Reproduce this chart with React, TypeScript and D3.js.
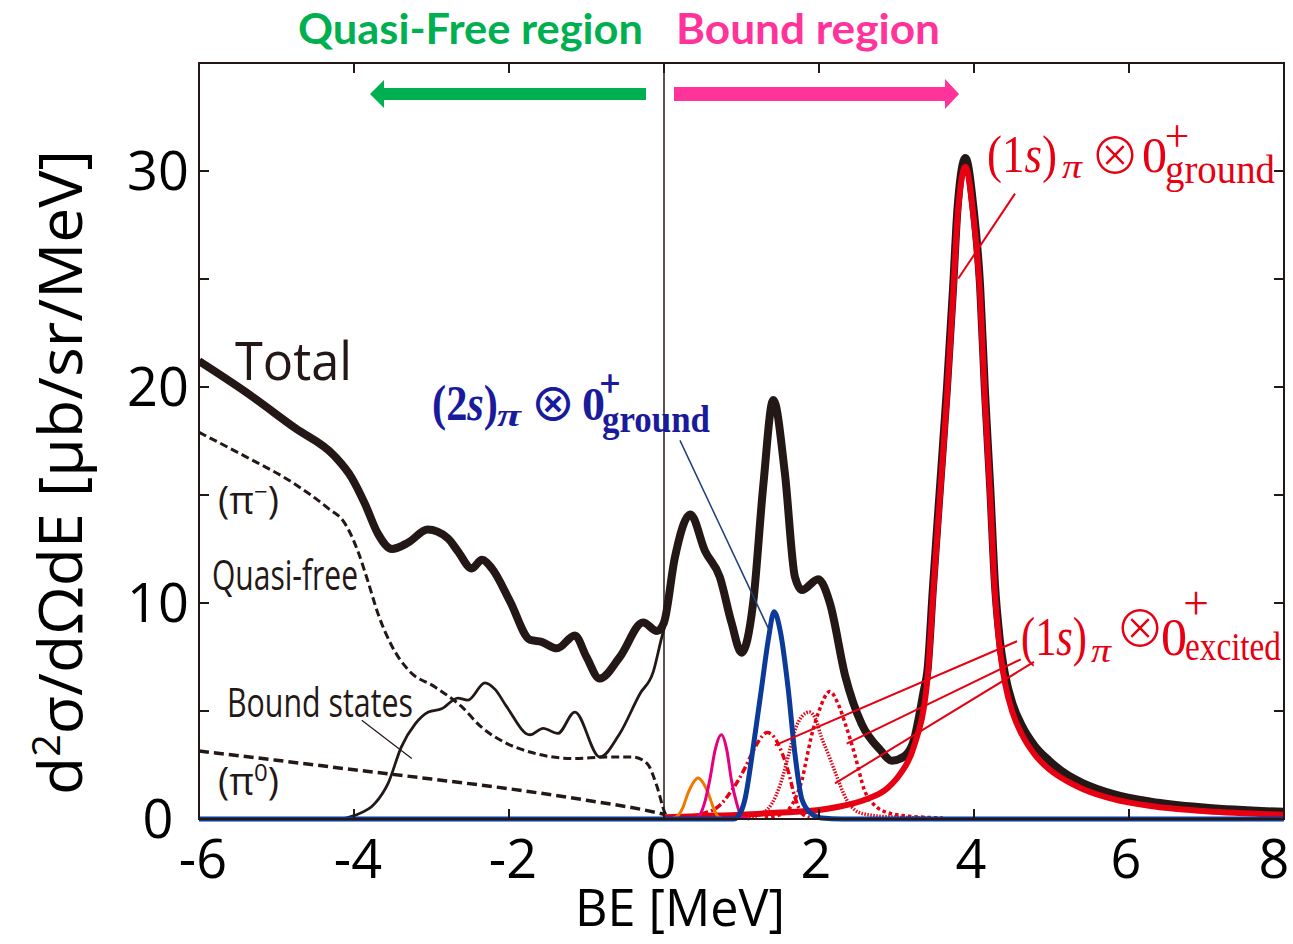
import React from 'react';
import * as d3 from 'd3';

type P = [number, number];

const xTicks = [-6, -4, -2, 0, 2, 4, 6, 8];
const yTicksAll = [0, 5, 10, 15, 20, 25, 30, 35];
const yTickLabels = [0, 10, 20, 30];

const totalCurve: P[] = [
  [-6, 21.2], [-5.41, 19.8], [-4.76, 18.1], [-4.25, 16.8], [-4.03, 15.8], [-3.86, 14.6], [-3.69, 13.2],
  [-3.51, 12.5], [-3.3, 12.8], [-3.05, 13.4], [-2.79, 13.0], [-2.66, 12.4], [-2.48, 11.6], [-2.35, 12.0],
  [-2.22, 11.6], [-1.99, 10.1], [-1.73, 8.3], [-1.58, 8.2], [-1.38, 7.9], [-1.15, 8.5], [-1.0, 7.5],
  [-0.83, 6.5], [-0.57, 7.5], [-0.27, 9.1], [-0.09, 8.7], [0.0, 9.1], [0.14, 12.1], [0.34, 14.1],
  [0.53, 12.4], [0.72, 11.2], [0.87, 9.1], [1.0, 7.7], [1.15, 10.0], [1.28, 15.4], [1.41, 19.4],
  [1.56, 16.0], [1.69, 11.2], [1.78, 10.6], [1.99, 11.1], [2.14, 10.0], [2.34, 6.6], [2.55, 4.4],
  [2.79, 3.2], [2.94, 2.7], [3.1, 2.9], [3.22, 3.6], [3.35, 5.9], [3.4, 6.9], [3.47, 10.7], [3.56, 15.3],
  [3.65, 19.9], [3.73, 24.6], [3.79, 28.4], [3.89, 30.6], [3.99, 28.4], [4.08, 24.6], [4.14, 19.9],
  [4.21, 15.3], [4.27, 10.9], [4.33, 8.4], [4.4, 6.7], [4.5, 5.3], [4.62, 4.3], [4.78, 3.4], [4.97, 2.7],
  [5.2, 2.05], [5.41, 1.65], [5.8, 1.15], [6.28, 0.8], [7.0, 0.52], [8.0, 0.33],
];

const quasiFreeCurve: P[] = [
  [-6, 17.9], [-5.41, 16.8], [-4.76, 15.5], [-4.34, 14.4], [-4.12, 13.7], [-3.95, 12.4], [-3.82, 11.0],
  [-3.69, 9.5], [-3.51, 8.0], [-3.3, 6.9], [-2.95, 6.1], [-2.61, 5.2], [-2.37, 4.3], [-2.03, 3.5],
  [-1.73, 3.1], [-1.17, 2.8], [-0.74, 2.87], [-0.4, 2.87], [-0.22, 2.58], [-0.09, 1.5], [0.01, 0.3], [0.06, 0.0],
];

const pi0Curve: P[] = [
  [-6, 3.15], [-5, 2.72], [-4, 2.28], [-3, 1.85], [-2, 1.4], [-1, 0.87], [-0.3, 0.45], [0.0, 0.22],
];

const boundStatesCurve: P[] = [
  [-6, 0], [-4.2, 0], [-3.99, 0.17], [-3.73, 0.72], [-3.56, 1.65], [-3.39, 3.33], [-3.21, 4.4],
  [-3.04, 4.95], [-2.87, 5.1], [-2.66, 5.6], [-2.53, 5.5], [-2.31, 6.3], [-2.18, 6.0], [-2.03, 5.2],
  [-1.73, 3.9], [-1.56, 4.2], [-1.37, 3.96], [-1.15, 4.95], [-0.83, 2.87], [-0.57, 3.96], [-0.31, 5.8],
  [-0.14, 6.8], [-0.03, 8.4], [0.03, 9.2],
];

const ground1sCurve: P[] = [
  [0.0, 0.08], [0.5, 0.14], [1.0, 0.2], [1.5, 0.3], [2.0, 0.42], [2.3, 0.6], [2.6, 0.9], [2.89, 1.45],
  [3.05, 2.1], [3.22, 3.3], [3.4, 6.5], [3.47, 10.3], [3.56, 14.9], [3.65, 19.5], [3.73, 24.2],
  [3.79, 28.0], [3.89, 30.2], [3.99, 28.0], [4.08, 24.2], [4.14, 19.5], [4.21, 14.9], [4.27, 10.5],
  [4.33, 8.0], [4.4, 6.3], [4.5, 4.9], [4.62, 3.9], [4.78, 3.0], [4.97, 2.3], [5.2, 1.75], [5.41, 1.38],
  [5.8, 0.92], [6.28, 0.6], [7.0, 0.36], [8.0, 0.2],
];

const ground2sCurve: P[] = [
  [-6, 0], [0.9, 0], [1.0, 0.4], [1.05, 1.0], [1.11, 2.3], [1.17, 3.8], [1.26, 6.1], [1.35, 8.4],
  [1.42, 9.6], [1.5, 8.7], [1.6, 6.1], [1.69, 3.0], [1.78, 0.9], [1.9, 0.25], [2.03, 0.05], [2.3, 0], [8, 0],
];

const orangeCurve: P[] = [
  [0.05, 0], [0.16, 0.1], [0.24, 0.5], [0.31, 1.2], [0.38, 1.7], [0.44, 1.9], [0.5, 1.7], [0.57, 1.2],
  [0.64, 0.5], [0.7, 0.1], [0.8, 0],
];

const pinkCurve: P[] = [
  [0.35, 0], [0.44, 0.1], [0.52, 0.7], [0.59, 1.8], [0.66, 3.2], [0.74, 3.9], [0.81, 3.2], [0.87, 1.8],
  [0.94, 0.7], [1.0, 0.1], [1.1, 0],
];

const excitedA: P[] = [
  [0.1, 0.05], [0.5, 0.25], [0.74, 0.7], [0.85, 1.2], [0.96, 1.8], [1.05, 2.4], [1.13, 3.0], [1.22, 3.6],
  [1.33, 4.0], [1.42, 3.8], [1.47, 3.5], [1.54, 2.9], [1.6, 2.25], [1.69, 1.0], [1.78, 0.26], [1.9, 0.05],
];

const excitedB: P[] = [
  [1.1, 0.05], [1.21, 0.17], [1.39, 0.7], [1.5, 1.6], [1.61, 3.0], [1.69, 4.1], [1.78, 4.75], [1.88, 4.95],
  [1.96, 4.6], [2.03, 3.8], [2.12, 3.0], [2.2, 2.25], [2.36, 0.87], [2.55, 0.26], [2.9, 0.1], [3.4, 0.05],
];

const excitedC: P[] = [
  [1.3, 0.05], [1.5, 0.2], [1.6, 0.4], [1.7, 1.0], [1.78, 1.8], [1.84, 2.8], [1.9, 3.8], [2.0, 5.0],
  [2.14, 5.9], [2.25, 5.3], [2.34, 4.4], [2.46, 3.0], [2.59, 1.3], [2.7, 0.7], [2.81, 0.4], [3.1, 0.15], [3.6, 0.05],
];

// annotation leader lines in data units: [from, to]
const excitedLeaders: [P, P][] = [
  [[4.555, 8.23], [1.43, 3.41]],
  [[4.603, 7.39], [2.357, 3.49]],
  [[4.774, 7.27], [2.206, 1.65]],
];
const ground1sLeader: [P, P] = [[4.529, 28.95], [3.797, 25.02]];
const ground2sLeader: [P, P] = [[0.206, 17.53], [1.368, 8.66]];
const boundLeader: [P, P] = [[-3.9, 4.57], [-3.255, 2.8]];

const W = 1293;
const H = 944;
const L = 199, R = 1284, T = 63, B = 819;

const BLACK = '#231815';
const RED = '#e60012';
const BLUE = '#0b3a98';
const NAVY = '#1a1a9c';
const PINK = '#e4007f';
const ORANGE = '#ee7800';

const SANS = "'Open Sans', 'Noto Sans', sans-serif";
const SERIF = "'Liberation Serif', 'DejaVu Serif', serif";
const SYM = "'Noto Sans CJK JP', 'DejaVu Sans', sans-serif";

export default function App() {
  const x = d3.scaleLinear().domain([-6, 8]).range([L, R]);
  const y = d3.scaleLinear().domain([0, 35]).range([B, T]);
  const line = d3.line<P>().x((d) => x(d[0])).y((d) => y(d[1])).curve(d3.curveMonotoneX);

  const lead = (seg: [P, P], color: string, w: number) => (
    <line x1={x(seg[0][0])} y1={y(seg[0][1])} x2={x(seg[1][0])} y2={y(seg[1][1])} stroke={color} strokeWidth={w} />
  );

  const otimes = (cx: number, baseY: number, size: number, color: string, weight: number) => (
    <text x={cx} y={baseY} fontSize={size} fill={color} fontFamily={SYM} textAnchor="middle"
      fontWeight={weight}>⊗</text>
  );

  const plus = (cx: number, baseY: number, size: number, color: string, weight: number) => (
    <text x={cx} y={baseY} fontSize={size} fill={color} fontFamily={SYM} fontWeight={weight} textAnchor="middle">+</text>
  );

  return (
    <svg width={W} height={H} style={{ position: 'absolute', left: 0, top: 0, display: 'block', background: '#fff' }}>
      <defs>
        <clipPath id="plotclip">
          <rect x={L} y={T} width={R - L} height={B - T + 6} />
        </clipPath>
      </defs>
      <rect x={0} y={0} width={W} height={H} fill="#fff" />

      {/* header texts */}
      <text x={298} y={44} fontSize={42} fontWeight="bold" fill="#00b050" fontFamily="Lato, 'Open Sans', sans-serif"
        textLength={345} lengthAdjust="spacingAndGlyphs">Quasi-Free region</text>
      <text x={676} y={44} fontSize={42} fontWeight="bold" fill="#ff3399" fontFamily="Lato, 'Open Sans', sans-serif"
        textLength={264} lengthAdjust="spacingAndGlyphs">Bound region</text>

      {/* arrows */}
      <path d={`M646,88 L384,88 L384,80 L370,94 L384,108 L384,100 L646,100 Z`} fill="#00b050" />
      <path d={`M674,87 L945,87 L945,79 L959,94 L945,109 L945,101 L674,101 Z`} fill="#ff3399" />

      {/* vertical line at 0 */}
      <line x1={x(0)} x2={x(0)} y1={T} y2={B} stroke={BLACK} strokeWidth={1.5} />

      <g clipPath="url(#plotclip)" fill="none" strokeLinejoin="round" strokeLinecap="butt">
        <path d={line(pi0Curve) || ''} stroke={BLACK} strokeWidth={3.5} strokeDasharray="10,5" />
        <path d={line(quasiFreeCurve) || ''} stroke={BLACK} strokeWidth={3} strokeDasharray="8,4" />
        <path d={line(boundStatesCurve) || ''} stroke={BLACK} strokeWidth={2.8} />
        <path d={line(totalCurve) || ''} stroke={BLACK} strokeWidth={8} />
        <path d={line(ground1sCurve) || ''} stroke={RED} strokeWidth={6} />
        <path d={line(excitedA) || ''} stroke={RED} strokeWidth={3.5} strokeDasharray="7,3,2,3" />
        <path d={line(excitedB) || ''} stroke={RED} strokeWidth={3.5} strokeDasharray="1.5,1.5" />
        <path d={line(excitedC) || ''} stroke={RED} strokeWidth={3.5} strokeDasharray="3.5,3" />
        <path d={line(orangeCurve) || ''} stroke={ORANGE} strokeWidth={3} />
        <path d={line(pinkCurve) || ''} stroke={PINK} strokeWidth={3} />
        <path d={line(ground2sCurve) || ''} stroke={BLUE} strokeWidth={5} />
      </g>

      {/* leader lines */}
      {excitedLeaders.map((s, i) => <g key={i}>{lead(s, RED, 2)}</g>)}
      {lead(ground1sLeader, RED, 2)}
      {lead(ground2sLeader, '#1f3f7a', 1.5)}
      {lead(boundLeader, BLACK, 1.2)}

      {/* frame */}
      <rect x={L} y={T} width={R - L} height={B - T} fill="none" stroke={BLACK} strokeWidth={2} />
      {xTicks.map((t) => (
        <g key={'xt' + t}>
          <line x1={x(t)} x2={x(t)} y1={B} y2={B - 10} stroke={BLACK} strokeWidth={2} />
          <line x1={x(t)} x2={x(t)} y1={T} y2={T + 10} stroke={BLACK} strokeWidth={2} />
        </g>
      ))}
      {yTicksAll.map((t) => (
        <g key={'yt' + t}>
          <line x1={L} x2={L + 10} y1={y(t)} y2={y(t)} stroke={BLACK} strokeWidth={2} />
          <line x1={R} x2={R - 10} y1={y(t)} y2={y(t)} stroke={BLACK} strokeWidth={2} />
        </g>
      ))}

      {/* tick labels */}
      {xTicks.map((t) => (
        <text key={'xl' + t} x={x(t) + (t === 8 ? -10 : t < 0 ? 4 : -3)} y={878} fontSize={54} fill="#000"
          textAnchor="middle" fontFamily={SANS}>{String(t)}</text>
      ))}
      {yTickLabels.map((t) => (
        <text key={'yl' + t} x={158} y={y(t) + 19} fontSize={54} fill="#000" textAnchor="middle" fontFamily={SANS}>{String(t)}</text>
      ))}

      {/* axis titles */}
      <text x={575} y={926} fontSize={52} fill="#000" fontFamily={SANS} textLength={210} lengthAdjust="spacingAndGlyphs">BE [MeV]</text>
      <text transform="translate(82,795) rotate(-90)" x={0} y={0} fontSize={60} fill="#000" fontFamily={SANS}
        textLength={645} lengthAdjust="spacingAndGlyphs">
        d<tspan dy={-22} fontSize={38}>2</tspan><tspan dy={22}>σ/dΩdE [μb/sr/MeV]</tspan>
      </text>

      {/* in-plot labels */}
      <text x={235} y={380} fontSize={53} fill={BLACK} fontFamily={SANS} textLength={117} lengthAdjust="spacingAndGlyphs">Total</text>
      <text x={218} y={514} fontSize={38} fill={BLACK} fontFamily={SANS}>
        (π<tspan dy={-14} fontSize={24}>−</tspan><tspan dy={14}>)</tspan>
      </text>
      <text x={212} y={590} fontSize={42} fill={BLACK} fontFamily={SANS} textLength={146} lengthAdjust="spacingAndGlyphs">Quasi-free</text>
      <text x={227} y={717} fontSize={41} fill={BLACK} fontFamily={SANS} textLength={186} lengthAdjust="spacingAndGlyphs">Bound states</text>
      <text x={218} y={795} fontSize={38} fill={BLACK} fontFamily={SANS}>
        (π<tspan dy={-14} fontSize={24}>0</tspan><tspan dy={14}>)</tspan>
      </text>

      {/* (1s) ground label */}
      <g fill={RED} fontFamily={SERIF}>
        <text x={987} y={172} fontSize={52} textLength={70} lengthAdjust="spacingAndGlyphs">(1<tspan fontStyle="italic">s</tspan>)</text>
        <text x={1062} y={178} fontSize={34} fontStyle="italic" textLength={20} lengthAdjust="spacingAndGlyphs">π</text>
        {otimes(1115, 174, 50, RED, 300)}
        <text x={1142} y={172} fontSize={50}>0</text>
        {plus(1177, 152, 44, RED, 300)}
        <text x={1165} y={183} fontSize={40} textLength={110} lengthAdjust="spacingAndGlyphs">ground</text>
      </g>

      {/* (2s) ground label */}
      <g fill={NAVY} fontFamily={SERIF} fontWeight="bold">
        <text x={432} y={420} fontSize={50} textLength={66} lengthAdjust="spacingAndGlyphs">(2<tspan fontStyle="italic">s</tspan>)</text>
        <text x={497} y={426} fontSize={32} fontStyle="italic" textLength={24} lengthAdjust="spacingAndGlyphs">π</text>
        {otimes(553, 421, 46, NAVY, 500)}
        <text x={582} y={420} fontSize={46}>0</text>
        {plus(610, 397, 36, NAVY, 500)}
        <text x={602} y={432} fontSize={38} textLength={108} lengthAdjust="spacingAndGlyphs">ground</text>
      </g>

      {/* (1s) excited label */}
      <g fill={RED} fontFamily={SERIF}>
        <text x={1021} y={655} fontSize={54} textLength={66} lengthAdjust="spacingAndGlyphs">(1<tspan fontStyle="italic">s</tspan>)</text>
        <text x={1091} y={662} fontSize={34} fontStyle="italic" textLength={20} lengthAdjust="spacingAndGlyphs">π</text>
        {otimes(1140, 647, 50, RED, 300)}
        {plus(1196, 620, 46, RED, 300)}
        <text x={1161} y={655} fontSize={52}>0</text>
        <text x={1185} y={660} fontSize={40} textLength={96} lengthAdjust="spacingAndGlyphs">excited</text>
      </g>
    </svg>
  );
}
